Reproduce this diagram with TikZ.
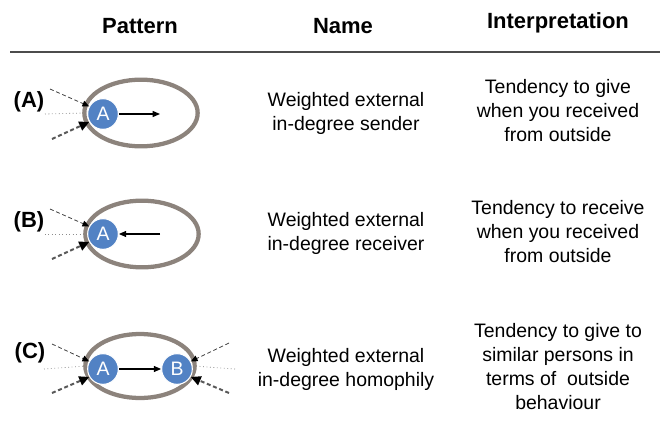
\documentclass[tikz,border=0pt]{standalone}
\usepackage{fontspec}
\setmainfont{Liberation Sans}
\usetikzlibrary{arrows.meta, shapes.geometric}

\definecolor{ringgray}{RGB}{140,131,124}
\definecolor{nodeblue}{RGB}{82,130,196}

\begin{document}
\begin{tikzpicture}[x=0.75pt, y=-0.75pt,
    txt/.style={font=\fontsize{14.6}{18}\selectfont, align=center},
    head/.style={font=\fontsize{16.5}{20}\selectfont\bfseries},
    ring/.style={ellipse, draw=ringgray, line width=3.2pt, inner sep=0pt, outer sep=0pt,
      minimum width=85pt, minimum height=50pt},
    actor/.style={circle, fill=nodeblue, draw=white, line width=0.8pt, minimum size=23pt,
      inner sep=0pt, text=white, font=\fontsize{14.6}{18}\selectfont},
    tie/.style={-{Triangle[length=5.5pt,width=4.5pt]}, line width=0.9pt},
    thin in/.style={-{Triangle[length=5pt,width=4.5pt,color=black]}, densely dashed,
      line width=0.6pt, draw=black!75},
    thick in/.style={-{Triangle[length=7.5pt,width=7pt,color=black]}, dash pattern=on 3pt off 2pt,
      line width=1.5pt, draw=black!65},
    outside/.style={dotted, line width=0.6pt, draw=black!45}]
  \useasboundingbox (0,0) rectangle (660,421);

  % header
  \node[head, anchor=base] (hpat) at (140,33) {Pattern};
  \node[head, anchor=base] (hname) at (343,33) {Name};
  \node[head, anchor=base] (hint) at (558,28) {Interpretation};
  \draw[line width=1.5pt, black!70] (10,52) -- (660,52);

  % (A) sender
  \node[head] (la) at (29,102) {(A)};
  \node[ring] (ra) at (141,113) {};
  \node[actor] (a1) at (103,114) {A};
  \coordinate (a1out) at (160,114);
  \coordinate (a1top) at (50,89);
  \coordinate (a1mid) at (45,114);
  \coordinate (a1bot) at (52,139);
  \draw[tie] (a1) -- (a1out);
  \draw[thin in] (a1top) -- (a1.151);
  \draw[outside] (a1mid) -- (ra.west);
  \draw[thick in] (a1bot) -- (a1.210);
  \node[txt] (na) at (346,113) {Weighted external\\in-degree sender};
  \node[txt] (ia) at (558,111) {Tendency to give\\when you received\\from outside};

  % (B) receiver
  \node[head] (lb) at (29,222) {(B)};
  \node[ring] (rb) at (142,234) {};
  \node[actor] (b1) at (103,234) {A};
  \coordinate (b1in) at (160,234);
  \coordinate (b1top) at (50,209);
  \coordinate (b1mid) at (45,234);
  \coordinate (b1bot) at (52,259);
  \draw[tie] (b1in) -- (b1);
  \draw[thin in] (b1top) -- (b1.151);
  \draw[outside] (b1mid) -- (rb.west);
  \draw[thick in] (b1bot) -- (b1.210);
  \node[txt] (nb) at (346,233) {Weighted external\\in-degree receiver};
  \node[txt] (ib) at (558,232) {Tendency to receive\\when you received\\from outside};

  % (C) homophily
  \node[head] (lc) at (30,353) {(C)};
  \node[ring, minimum width=82pt, minimum height=48pt] (rc) at (140,366) {};
  \node[actor] (c1) at (103,369) {A};
  \node[actor] (c2) at (177,369) {B};
  \coordinate (c1top) at (52,344);
  \coordinate (c1mid) at (44,369);
  \coordinate (c1bot) at (52,393);
  \coordinate (c2top) at (229,343);
  \coordinate (c2mid) at (235,369);
  \coordinate (c2bot) at (229,393);
  \draw[tie] (c1) -- (c2);
  \draw[thin in] (c1top) -- (c1.151);
  \draw[outside] (c1mid) -- (rc.west);
  \draw[thick in] (c1bot) -- (c1.210);
  \draw[thin in] (c2top) -- (c2.29);
  \draw[outside] (c2mid) -- (rc.east);
  \draw[thick in] (c2bot) -- (c2.330);
  \node[txt] (nc) at (346,369) {Weighted external\\in-degree homophily};
  \node[txt] (ic) at (558,367) {Tendency to give to\\similar persons in\\terms of~ outside\\behaviour};
\end{tikzpicture}
\end{document}
